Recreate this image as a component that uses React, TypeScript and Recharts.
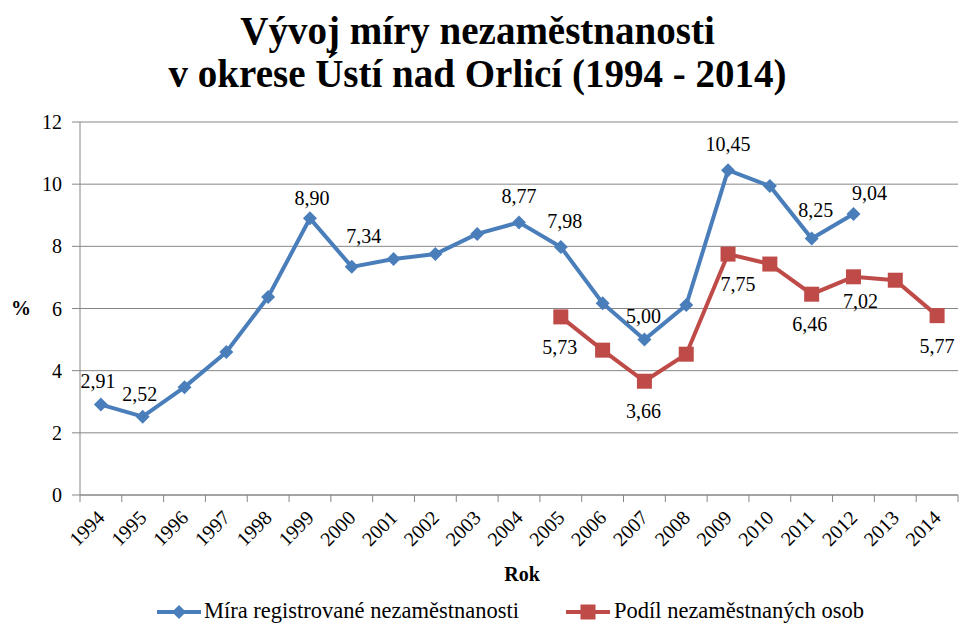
// Vývoj míry nezaměstnanosti – okres Ústí nad Orlicí
import { ComposedChart, Line, XAxis, YAxis, CartesianGrid, LabelList } from 'recharts'

const years = ['1994', '1995', '1996', '1997', '1998', '1999', '2000', '2001', '2002', '2003', '2004',
  '2005', '2006', '2007', '2008', '2009', '2010', '2011', '2012', '2013', '2014']

// Míra registrované nezaměstnanosti
const miraValues = [2.91, 2.52, 3.47, 4.6, 6.37, 8.9, 7.34, 7.59, 7.75, 8.4, 8.77,
  7.98, 6.17, 5.0, 6.11, 10.45, 9.94, 8.25, 9.04, null, null]

// Podíl nezaměstnaných osob
const podilValues = [null, null, null, null, null, null, null, null, null, null, null,
  5.73, 4.66, 3.66, 4.53, 7.75, 7.43, 6.46, 7.02, 6.91, 5.77]

const yTicks = [0, 2, 4, 6, 8, 10, 12]

const data = years.map((rok, i) => ({ rok, mira: miraValues[i], podil: podilValues[i] }))

// kde stojí popisky (posun od bodu)
const miraLabelPos: Record<string, [number, number]> = {
  '1994': [-3, -24], '1995': [-3, -23], '1999': [2, -20], '2000': [12, -31], '2004': [0, -26],
  '2005': [4, -26], '2007': [-1, -24], '2009': [0, -26], '2011': [4, -29], '2012': [16, -21],
}
const podilLabelPos: Record<string, [number, number]> = {
  '2005': [-1, 30], '2007': [-1, 30], '2009': [10, 30], '2011': [-2, 30], '2012': [7, 24], '2014': [0, 30],
}

const BLUE = '#4a7ebb'
const RED = '#be4b48'
const GRID = '#868686'
const FONT = '"Liberation Serif", "Times New Roman", serif'
const PLOT_W = 878
const BAND = PLOT_W / years.length

const fmt = (v: number) => v.toFixed(2).replace('.', ',')

function YearTick(props: any) {
  const { x, y, payload, index } = props
  return (
    <g>
      <line x1={x - BAND / 2} y1={y} x2={x - BAND / 2} y2={y + 7} stroke={GRID} />
      {index === years.length - 1 && <line x1={x + BAND / 2} y1={y} x2={x + BAND / 2} y2={y + 7} stroke={GRID} />}
      <text x={0} y={0} transform={`translate(${x + 5},${y + 24}) rotate(-45)`} textAnchor="end"
        style={{ fontSize: 20, fontFamily: FONT, fill: '#000' }}>{payload.value}</text>
    </g>
  )
}

function ValueTick(props: any) {
  const { x, y, payload } = props
  return (
    <text x={x} y={y} textAnchor="end" dominantBaseline="central"
      style={{ fontSize: 20, fontFamily: FONT, fill: '#000' }}>{payload.value}</text>
  )
}

function Diamond(props: any) {
  const { cx, cy, value } = props
  if (value == null || cx == null) return null
  const r = 7
  return <path d={`M${cx},${cy - r}L${cx + r},${cy}L${cx},${cy + r}L${cx - r},${cy}Z`} fill={BLUE} />
}

function Square(props: any) {
  const { cx, cy, value } = props
  if (value == null || cx == null) return null
  return <rect x={cx - 7.5} y={cy - 7.5} width={15} height={15} fill={RED} />
}

function makeLabel(pos: Record<string, [number, number]>) {
  return (props: any) => {
    const { x, y, value, index } = props
    const p = pos[years[index]]
    if (!p || value == null) return null
    return (
      <text key={index} x={x + p[0]} y={y + p[1]} textAnchor="middle" dominantBaseline="central"
        style={{ fontSize: 20, fontFamily: FONT, fill: '#000' }}>{fmt(value)}</text>
    )
  }
}

export default function App() {
  return (
    <div style={{ position: 'absolute', left: 0, top: 0, width: 959, height: 628, background: '#fff', fontFamily: FONT }}>
      <div style={{ position: 'absolute', left: 0, top: 9, width: 955, textAlign: 'center', fontSize: 39,
        fontWeight: 'bold', lineHeight: '43px', color: '#000', fontFamily: FONT }}>
        Vývoj míry nezaměstnanosti<br />v okrese Ústí nad Orlicí (1994 - 2014)
      </div>
      <div style={{ position: 'absolute', left: 11, top: 297, fontSize: 20, fontWeight: 'bold', fontFamily: FONT }}>%</div>
      <div style={{ position: 'absolute', left: 0, top: 563, width: 1044, textAlign: 'center', fontSize: 20,
        fontWeight: 'bold', fontFamily: FONT }}>Rok</div>

      <ComposedChart width={959} height={628} data={data} margin={{ top: 122, right: 1, left: 0, bottom: 0 }}>
        <CartesianGrid vertical={false} stroke={GRID} strokeWidth={1} />
        <XAxis dataKey="rok" scale="band" height={133} stroke={GRID} tickLine={false} tickSize={0} tickMargin={0}
          tick={<YearTick />} interval={0} />
        <YAxis domain={[0, 12]} ticks={yTicks} width={80} stroke={GRID} tickSize={8} tickMargin={10}
          tick={<ValueTick />} />
        <Line dataKey="mira" stroke={BLUE} strokeWidth={4} dot={<Diamond />} activeDot={false}
          isAnimationActive={false} connectNulls={false}>
          <LabelList dataKey="mira" content={makeLabel(miraLabelPos)} />
        </Line>
        <Line dataKey="podil" stroke={RED} strokeWidth={4} dot={<Square />} activeDot={false}
          isAnimationActive={false} connectNulls={false}>
          <LabelList dataKey="podil" content={makeLabel(podilLabelPos)} />
        </Line>
      </ComposedChart>

      <svg style={{ position: 'absolute', left: 156, top: 604 }} width={46} height={16}>
        <line x1={1} y1={8} x2={45} y2={8} stroke={BLUE} strokeWidth={4} />
        <path d="M23,1L30,8L23,15L16,8Z" fill={BLUE} />
      </svg>
      <div style={{ position: 'absolute', left: 204, top: 598, fontSize: 22.5, lineHeight: '26px', fontFamily: FONT }}>
        Míra registrované nezaměstnanosti
      </div>
      <svg style={{ position: 'absolute', left: 565, top: 604 }} width={46} height={16}>
        <line x1={1} y1={8} x2={45} y2={8} stroke={RED} strokeWidth={4} />
        <rect x={15.5} y={0.5} width={15} height={15} fill={RED} />
      </svg>
      <div style={{ position: 'absolute', left: 614, top: 598, fontSize: 22.5, lineHeight: '26px', fontFamily: FONT }}>
        Podíl nezaměstnaných osob
      </div>
    </div>
  )
}
